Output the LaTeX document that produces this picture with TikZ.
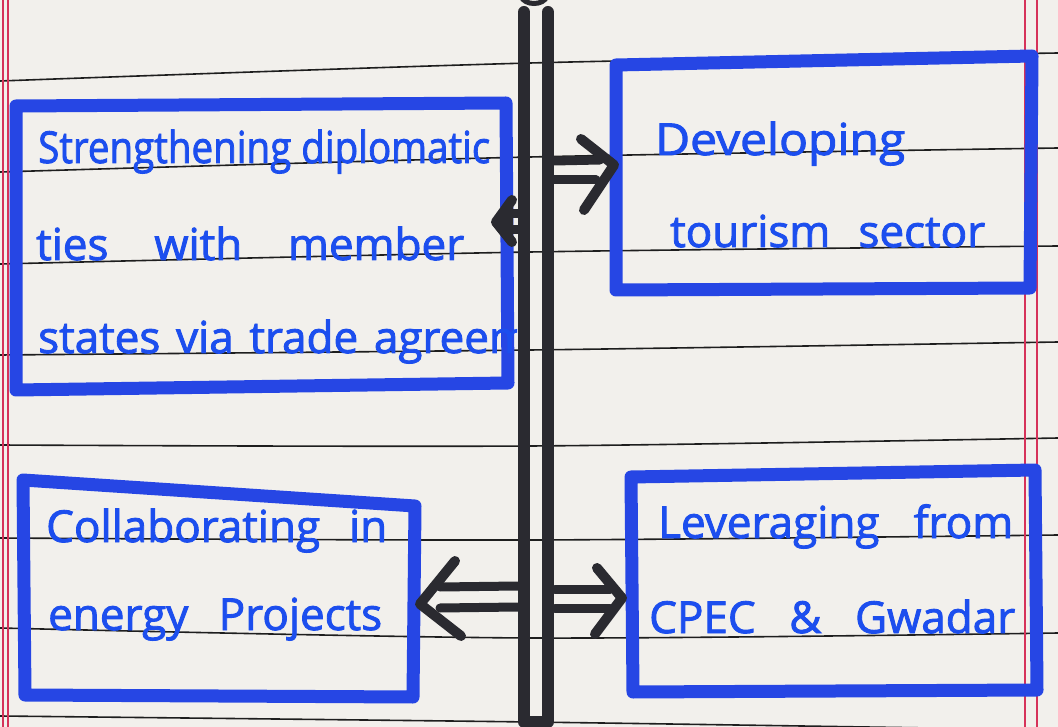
\documentclass[tikz,border=0pt]{standalone}
\usepackage{fontspec}
\setmainfont{Open Sans}
\newfontfamily\handfont[FakeBold=2]{Open Sans}
\usetikzlibrary{calc}
\definecolor{paper}{RGB}{242,240,236}
\definecolor{rulecol}{RGB}{30,30,30}
\definecolor{margincol}{RGB}{214,50,90}
\definecolor{ink}{RGB}{42,42,48}
\definecolor{boxblue}{RGB}{38,70,228}
\definecolor{textblue}{RGB}{28,78,238}
\newcommand\handtext{\handfont\fontsize{44}{46}\selectfont\color{textblue}}
\newlength\hwlen
\newcommand\hw[2]{\settowidth{\hwlen}{#2}\ifdim\hwlen>#1\relax\resizebox{#1}{\height}{#2}\else\makebox[#1][s]{#2}\fi}
\begin{document}
\begin{tikzpicture}[x=1pt,y=-1pt,
  ruled/.style={rulecol, line width=1.6pt},
  marginline/.style={margincol, line width=1.1pt},
  pillarline/.style={ink, line width=12pt, line cap=round, line join=round},
  arr/.style={ink, line width=9pt, line cap=round, line join=round},
  headline/.style={ink, line width=10pt, line cap=round, line join=round},
  bluebox/.style={boxblue, line width=13pt, line join=round, line cap=round},
  label/.style={anchor=base west, inner sep=0pt, font=\handtext}]

\fill[paper] (0,0) rectangle (1058,727);
\useasboundingbox (0,0) rectangle (1058,727);

% ruled notebook lines
\foreach \a/\b/\c in {81/63/53, 172/157/148, 264/252/246, 355/350/342, 445/446/438, 538/540/535, 628/638/633, 716/722/730}
  \draw[ruled] plot[smooth] coordinates {(0,\a) (530,\b) (1058,\c)};

% margin lines
\foreach \x in {3,8,1025,1037}
  \draw[marginline] (\x,0) -- (\x,727);

% central pillar
\coordinate (pillarL) at (524,12);
\coordinate (pillarR) at (548,12);
\coordinate (pillarBL) at (524,722);
\coordinate (pillarBR) at (548,722);
\draw[pillarline] (pillarL) -- (pillarBL) -- (pillarBR) -- (pillarR);
\draw[ink, line width=5pt] (521,-4) .. controls (524,6) and (544,6) .. (547,-4);

% boxes
\draw[bluebox] (16,106) -- (506,103) -- (508,383) -- (16,390) -- cycle;
\draw[bluebox] (616,65) -- (1032,56) -- (1030,288) -- (616,290) -- cycle;
\draw[bluebox] (23,480) -- (415,506) -- (413,697) -- (25,695) -- cycle;
\draw[bluebox] (631,477) -- (1035,470) -- (1037,690) -- (633,692) -- cycle;

% texts
\node[label] (a1) at (38,163) {\hw{452pt}{Strengthening diplomatic}};
\node[label] (a2) at (36,260) {\hw{428pt}{ties with member}};
\begin{scope}
  \clip (0,0) rectangle (517,727);
  \node[label] (a3) at (38,353) {\hw{580pt}{states via trade agreements}};
\end{scope}
\node[label] (b1) at (655,155) {\resizebox{250pt}{\height}{Developing}};
\node[label] (b2) at (670,247) {\hw{315pt}{tourism sector}};
\node[label] (c1) at (46,542) {\hw{341pt}{Collaborating in}};
\node[label] (c2) at (48,630) {\hw{334pt}{energy Projects}};
\node[label] (d1) at (658,538) {\hw{355pt}{Leveraging from}};
\node[label] (d2) at (649,633) {\hw{366pt}{CPEC \& Gwadar}};

% arrow to box B (top right)
\coordinate (pR1) at (554,170);
\coordinate (tipB) at (614,165);
\draw[arr] ($(pR1)+(0,-9)$) -- ($(tipB)+(-14,-5)$);
\draw[arr] ($(pR1)+(0,10)$) -- ($(tipB)+(-18,15)$);
\draw[headline] ($(tipB)+(-33,-26)$) -- (tipB) -- ($(tipB)+(-30,45)$);

% small arrow to box A (top left)
\coordinate (pL1) at (518,222);
\coordinate (tipA) at (496,222);
\draw[arr] ($(pL1)+(0,-8)$) -- ($(tipA)+(12,-8)$);
\draw[arr] ($(pL1)+(0,8)$) -- ($(tipA)+(12,8)$);
\fill[ink] ($(tipA)+(17,-24)$) -- (tipA) -- ($(tipA)+(17,22)$) -- cycle;
\draw[headline] ($(tipA)+(16,-22)$) -- (tipA) -- ($(tipA)+(16,20)$);

% arrow to box C (bottom left)
\coordinate (pL2) at (518,597);
\coordinate (tipC) at (420,604);
\draw[arr] ($(pL2)+(0,-11)$) -- ($(tipC)+(20,-17)$);
\draw[arr] ($(pL2)+(0,10)$) -- ($(tipC)+(20,4)$);
\draw[headline] ($(tipC)+(35,-43)$) -- (tipC) -- ($(tipC)+(41,32)$);

% arrow to box D (bottom right)
\coordinate (pR2) at (555,598);
\coordinate (tipD) at (622,598);
\draw[arr] ($(pR2)+(0,-9)$) -- ($(tipD)+(-12,-9)$);
\draw[arr] ($(pR2)+(0,10)$) -- ($(tipD)+(-12,10)$);
\draw[headline] ($(tipD)+(-25,-30)$) -- (tipD) -- ($(tipD)+(-27,36)$);
\end{tikzpicture}
\end{document}
